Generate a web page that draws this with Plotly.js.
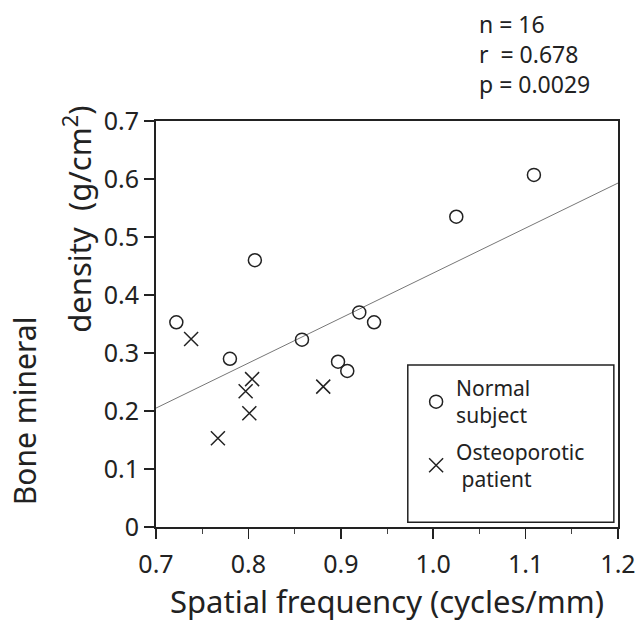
<!DOCTYPE html>
<html>
<head>
<meta charset="utf-8">
<script src="https://cdn.plot.ly/plotly-3.0.1.min.js"></script>
<style>html,body{margin:0;padding:0;background:#fff;}#chart{width:643px;height:624px;}</style>
</head>
<body>
<div id="chart"></div>
<script>
// Normal subjects
const normalX = [0.722, 0.780, 0.807, 0.858, 0.897, 0.907, 0.920, 0.936, 1.025, 1.109];
const normalY = [0.353, 0.290, 0.460, 0.323, 0.285, 0.269, 0.370, 0.353, 0.535, 0.607];
// Osteoporotic patients
const osteoX = [0.738, 0.767, 0.797, 0.801, 0.804, 0.881];
const osteoY = [0.324, 0.153, 0.234, 0.196, 0.255, 0.242];
// Regression line end points
const fitX = [0.7, 1.2];
const fitY = [0.205, 0.593];
// Tick labels
const xTickVals = [0.7, 0.8, 0.9, 1.0, 1.1, 1.2];
const xTickText = ['0.7', '0.8', '0.9', '1.0', '1.1', '1.2'];
const yTickVals = [0, 0.1, 0.2, 0.3, 0.4, 0.5, 0.6, 0.7];
const yTickText = ['0', '0.1', '0.2', '0.3', '0.4', '0.5', '0.6', '0.7'];
// Statistics text
const statLines = ['n = 16', 'r\u00A0 = 0.678', 'p = 0.0029'];

const FONT = 'Noto Sans, Open Sans, DejaVu Sans, sans-serif';
const INK = '#222';

const traces = [
  {x: fitX, y: fitY, mode: 'lines', line: {color: '#777', width: 1}, showlegend: false, hoverinfo: 'skip'},
  {x: normalX, y: normalY, mode: 'markers', name: 'Normal<br>subject', legendgroup: 'a',
   marker: {symbol: 'circle-open', size: 13, color: INK, line: {width: 1.5, color: INK}}},
  {x: osteoX, y: osteoY, mode: 'markers', name: 'Osteoporotic<br>\u00A0patient', legendgroup: 'b',
   marker: {symbol: 'x-thin-open', size: 14, color: INK, line: {width: 1.5, color: INK}}}
];

const annotations = [
  {xref: 'paper', yref: 'paper', x: 0.695, y: 1.165, xanchor: 'left', yanchor: 'middle', align: 'left',
   showarrow: false, text: statLines.join('<br>'), font: {size: 23, family: FONT, color: INK}},
  {xref: 'paper', yref: 'paper', x: -0.283, y: 0.286, xanchor: 'center', yanchor: 'middle', textangle: -90,
   showarrow: false, text: 'Bone mineral', font: {size: 30, family: FONT, color: INK}},
  {xref: 'paper', yref: 'paper', x: -0.17, y: 0.758, xanchor: 'center', yanchor: 'middle', textangle: -90,
   showarrow: false, text: 'density\u00A0 (g/cm<sup>2</sup>)', font: {size: 31, family: FONT, color: INK}}
];

const layout = {
  width: 643, height: 624,
  margin: {l: 156, r: 25, t: 121, b: 97},
  paper_bgcolor: '#fff', plot_bgcolor: '#fff',
  font: {family: FONT, color: INK},
  xaxis: {
    range: [0.7, 1.2], tickvals: xTickVals, ticktext: xTickText,
    ticks: 'outside', ticklen: 10, tickwidth: 1.5, tickcolor: INK,
    minor: {dtick: 0.05, tick0: 0.7, ticks: 'outside', ticklen: 5, tickcolor: '#444', tickwidth: 1},
    showline: true, linecolor: INK, linewidth: 2, mirror: true,
    showgrid: false, zeroline: false, ticklabelstandoff: 4,
    tickfont: {size: 25, family: FONT, color: INK},
    title: {text: 'Spatial frequency (cycles/mm)', font: {size: 31, family: FONT, color: INK}, standoff: 12}
  },
  yaxis: {
    range: [0, 0.7], tickvals: yTickVals, ticktext: yTickText,
    ticks: 'outside', ticklen: 10, tickwidth: 1.5, tickcolor: INK,
    showline: true, linecolor: INK, linewidth: 2, mirror: true,
    showgrid: false, zeroline: false,
    tickfont: {size: 25, family: FONT, color: INK}
  },
  showlegend: true,
  legend: {
    x: 0.563, xanchor: 'left', y: 0.392, yanchor: 'top',
    bgcolor: 'rgba(0,0,0,0)', borderwidth: 0,
    font: {size: 21, family: FONT, color: INK},
    tracegroupgap: 6, itemwidth: 30
  },
  shapes: [
    {type: 'rect', xref: 'paper', yref: 'paper', x0: 0.545, x1: 0.991, y0: 0.012, y1: 0.399,
     line: {color: INK, width: 1.5}}
  ],
  annotations: annotations
};

Plotly.newPlot('chart', traces, layout, {displayModeBar: false, staticPlot: true});
</script>
</body>
</html>
